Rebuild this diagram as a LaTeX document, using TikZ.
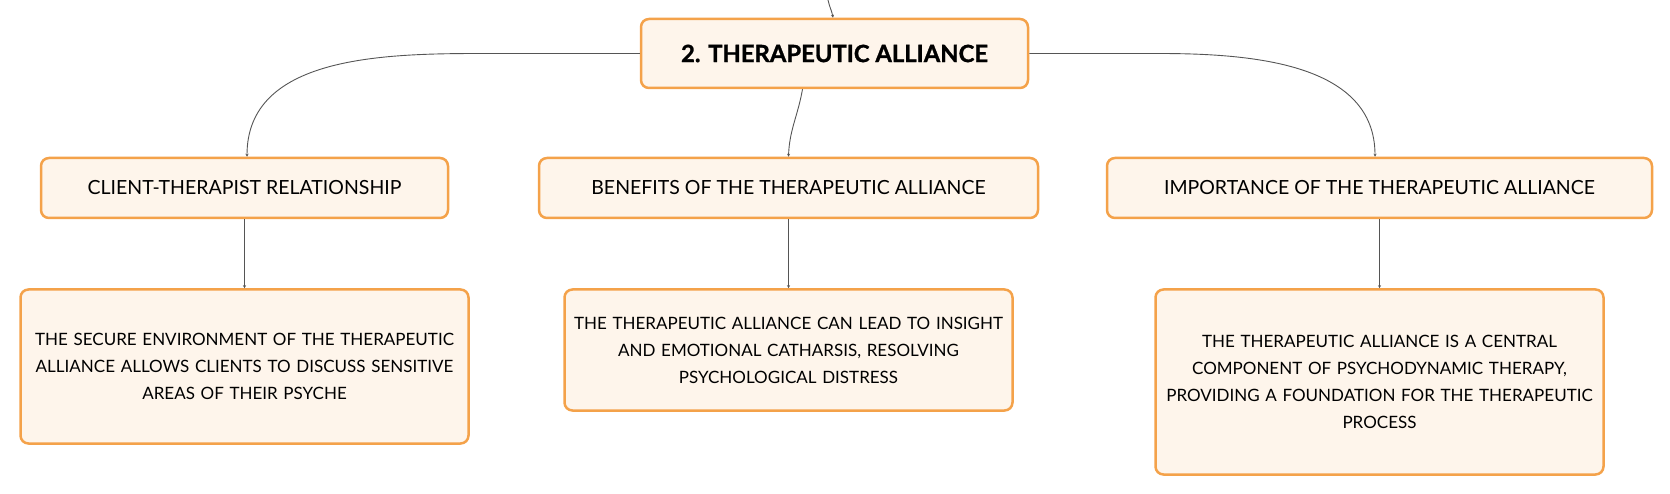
\documentclass[tikz,border=0pt]{standalone}
\usepackage{xcolor}
\usepackage{fontspec}
\setmainfont{Lato}
\newfontfamily\heavyfont[BoldFeatures={FakeBold=1.2}]{Lato}
\usepackage{tikz}
\usetikzlibrary{arrows.meta, positioning}

\definecolor{boxline}{HTML}{F4A24A}
\definecolor{boxfill}{HTML}{FEF5EB}
\definecolor{linkgray}{HTML}{555555}

\begin{document}
\begin{tikzpicture}[x=1pt, y=-1pt, >={Stealth[length=3pt, width=3pt]}, node distance=69pt]

        % Styles
        \tikzstyle{topic} = [draw=boxline, fill=boxfill, line width=2.5pt, rounded corners=8pt, align=center, inner sep=4pt]
        \tikzstyle{roottopic} = [topic, minimum width=387pt, minimum height=69pt, font=\fontsize{23.8}{28}\heavyfont\bfseries]
        \tikzstyle{subtopic} = [topic, minimum height=60pt, font=\fontsize{19.5}{22}\selectfont]
        \tikzstyle{detail} = [topic, text width=440pt, font=\fontsize{17}{27}\selectfont]
        \tikzstyle{link} = [->, linkgray, line width=0.9pt]

        \useasboundingbox (0,0) rectangle (1670,494);

        % Central topic
        \node[roottopic] (root) at (834.5,53.5) {2. THERAPEUTIC ALLIANCE};
        \coordinate (parent) at (828,0);

        % Subtopics
        \node[subtopic, minimum width=407pt] (client) at (244.5,188) {CLIENT-THERAPIST RELATIONSHIP};
        \node[subtopic, minimum width=499pt] (benefits) at (788.5,188) {BENEFITS OF THE THERAPEUTIC ALLIANCE};
        \node[subtopic, minimum width=545pt] (importance) at (1379.5,188) {IMPORTANCE OF THE THERAPEUTIC ALLIANCE};

        % Details
        \node[detail, minimum height=154pt, below=of client] (secure) {THE SECURE ENVIRONMENT OF THE THERAPEUTIC\\ALLIANCE ALLOWS CLIENTS TO DISCUSS SENSITIVE\\AREAS OF THEIR PSYCHE};
        \node[detail, minimum height=121pt, below=of benefits] (insight) {THE THERAPEUTIC ALLIANCE CAN LEAD TO INSIGHT\\AND EMOTIONAL CATHARSIS, RESOLVING\\PSYCHOLOGICAL DISTRESS};
        \node[detail, minimum height=185pt, below=of importance] (central) {THE THERAPEUTIC ALLIANCE IS A CENTRAL\\COMPONENT OF PSYCHODYNAMIC THERAPY,\\PROVIDING A FOUNDATION FOR THE THERAPEUTIC\\PROCESS};

        % Links to subtopics
        \draw[link] (parent) to[out=-78, in=100] ([xshift=-1.5pt]root.north);
        \draw[link] (root.west) -- ([xshift=-158pt]root.west) to[out=180, in=90] ([xshift=2.5pt]client.north);
        \draw[link] ([xshift=-32pt]root.south) to[out=-100, in=88] (benefits.north);
        \draw[link] (root.east) -- ([xshift=129pt]root.east) to[out=0, in=90] ([xshift=-4.5pt]importance.north);

        % Links to details
        \draw[link] (client) -- (secure);
        \draw[link] (benefits) -- (insight);
        \draw[link] (importance) -- (central);

    \end{tikzpicture}
\end{document}
